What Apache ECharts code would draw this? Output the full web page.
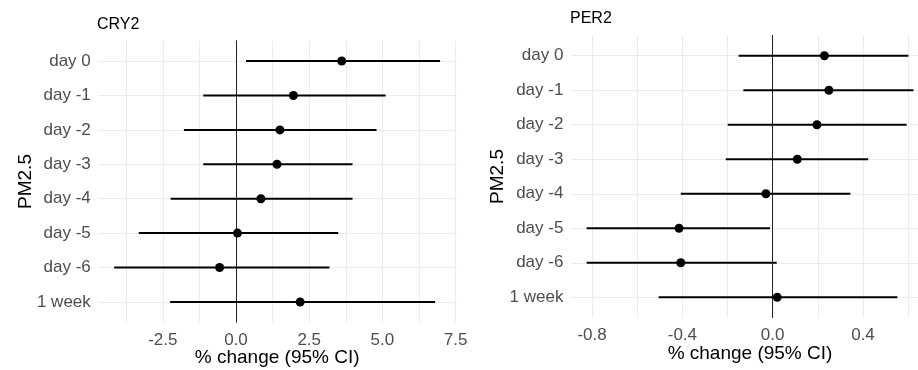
<!DOCTYPE html>
<html><head><meta charset="utf-8">
<script src="https://cdn.jsdelivr.net/npm/echarts@6/dist/echarts.min.js"></script>
<style>html,body{margin:0;padding:0;background:#fff;overflow:hidden}#c{width:918px;height:370px}</style>
</head><body><div id="c"></div>
<script>
// ---- data ----
const categories = ['day 0', 'day -1', 'day -2', 'day -3', 'day -4', 'day -5', 'day -6', '1 week'];
const cry2Est = [3.61, 1.96, 1.50, 1.40, 0.85, 0.05, -0.56, 2.19];
const cry2Lo  = [0.34, -1.12, -1.78, -1.12, -2.23, -3.32, -4.16, -2.25];
const cry2Hi  = [6.97, 5.11, 4.80, 3.98, 3.98, 3.49, 3.19, 6.80];
const per2Est = [0.229, 0.249, 0.196, 0.109, -0.030, -0.415, -0.407, 0.020];
const per2Lo  = [-0.151, -0.130, -0.199, -0.208, -0.407, -0.824, -0.824, -0.505];
const per2Hi  = [0.601, 0.623, 0.593, 0.423, 0.344, -0.012, 0.018, 0.552];
const cry2Ticks = [-2.5, 0, 2.5, 5, 7.5];
const cry2Grid = [-3.75, -2.5, -1.25, 0, 1.25, 2.5, 3.75, 5, 6.25, 7.5];
const per2Ticks = [-0.8, -0.4, 0, 0.4];
const per2Grid = [-0.8, -0.6, -0.4, -0.2, 0, 0.2, 0.4, 0.6];
const panelTitles = ['CRY2', 'PER2'];
const xTitle = '% change (95% CI)';
const yTitle = 'PM2.5';

const FONT = '"Liberation Sans", Arial, sans-serif';
const rowIdx = categories.map((_, i) => i);

function xAxisFor(gi, min, max, ticks, grid) {
  return {
    type: 'value', gridIndex: gi, min: min, max: max,
    name: xTitle, nameLocation: 'middle', nameGap: 26, nameMoveOverlap: false,
    nameTextStyle: {color: '#000', fontSize: 19, fontFamily: FONT},
    axisLine: {show: false},
    axisTick: {show: false, customValues: grid},
    axisLabel: {customValues: ticks, color: '#4d4d4d', fontSize: 17, fontFamily: FONT, margin: 9,
      formatter: v => v.toFixed(1)},
    splitLine: {show: true, lineStyle: {color: '#ebebeb', width: 1}},
    minorSplitLine: {show: false}
  };
}
function yAxisFor(gi) {
  return {
    type: 'value', gridIndex: gi, min: -0.6, max: 7.6, inverse: true,
    name: yTitle, nameLocation: 'middle', nameGap: 63, nameRotate: 90, nameMoveOverlap: false,
    nameTextStyle: {color: '#000', fontSize: 19, fontFamily: FONT},
    axisLine: {show: false},
    axisTick: {show: false, customValues: rowIdx},
    axisLabel: {customValues: rowIdx, color: '#4d4d4d', fontSize: 17, fontFamily: FONT, margin: 7,
      formatter: v => categories[Math.round(v)]},
    splitLine: {show: true, lineStyle: {color: '#ebebeb', width: 1}}
  };
}
function ciSeries(gi, lo, hi) {
  return {
    type: 'custom', xAxisIndex: gi, yAxisIndex: gi, z: 3,
    data: categories.map((_, i) => [lo[i], hi[i], i]),
    renderItem: (params, api) => {
      const a = api.coord([api.value(0), api.value(2)]);
      const b = api.coord([api.value(1), api.value(2)]);
      return {type: 'line', shape: {x1: a[0], y1: a[1], x2: b[0], y2: b[1]},
        style: {stroke: '#000', lineWidth: 2}};
    },
    markLine: {silent: true, symbol: 'none', label: {show: false}, z: 2,
      lineStyle: {color: '#222', width: 1, type: 'solid'}, data: [{xAxis: 0}]}
  };
}
function ptSeries(gi, est) {
  return {
    type: 'scatter', xAxisIndex: gi, yAxisIndex: gi, z: 4,
    symbol: 'circle', symbolSize: 9, itemStyle: {color: '#000', opacity: 1},
    data: categories.map((_, i) => [est[i], i])
  };
}

const chart = echarts.init(document.getElementById('c'), null, {renderer: 'canvas'});
chart.setOption({
  animation: false,
  backgroundColor: '#fff',
  title: [
    {text: panelTitles[0], left: 97, top: 17, padding: 0, textStyle: {fontSize: 16, fontWeight: 'normal', color: '#000', fontFamily: FONT}},
    {text: panelTitles[1], left: 570, top: 11, padding: 0, textStyle: {fontSize: 16, fontWeight: 'normal', color: '#000', fontFamily: FONT}}
  ],
  grid: [
    {left: 97.8, top: 40.4, width: 358.7, height: 282.2, containLabel: false, outerBoundsMode: 'none'},
    {left: 570.4, top: 35, width: 359.2, height: 283, containLabel: false, outerBoundsMode: 'none'}
  ],
  xAxis: [xAxisFor(0, -4.72, 7.53, cry2Ticks, cry2Grid), xAxisFor(1, -0.896, 0.695, per2Ticks, per2Grid)],
  yAxis: [yAxisFor(0), yAxisFor(1)],
  series: [ciSeries(0, cry2Lo, cry2Hi), ptSeries(0, cry2Est), ciSeries(1, per2Lo, per2Hi), ptSeries(1, per2Est)]
});
</script></body></html>
